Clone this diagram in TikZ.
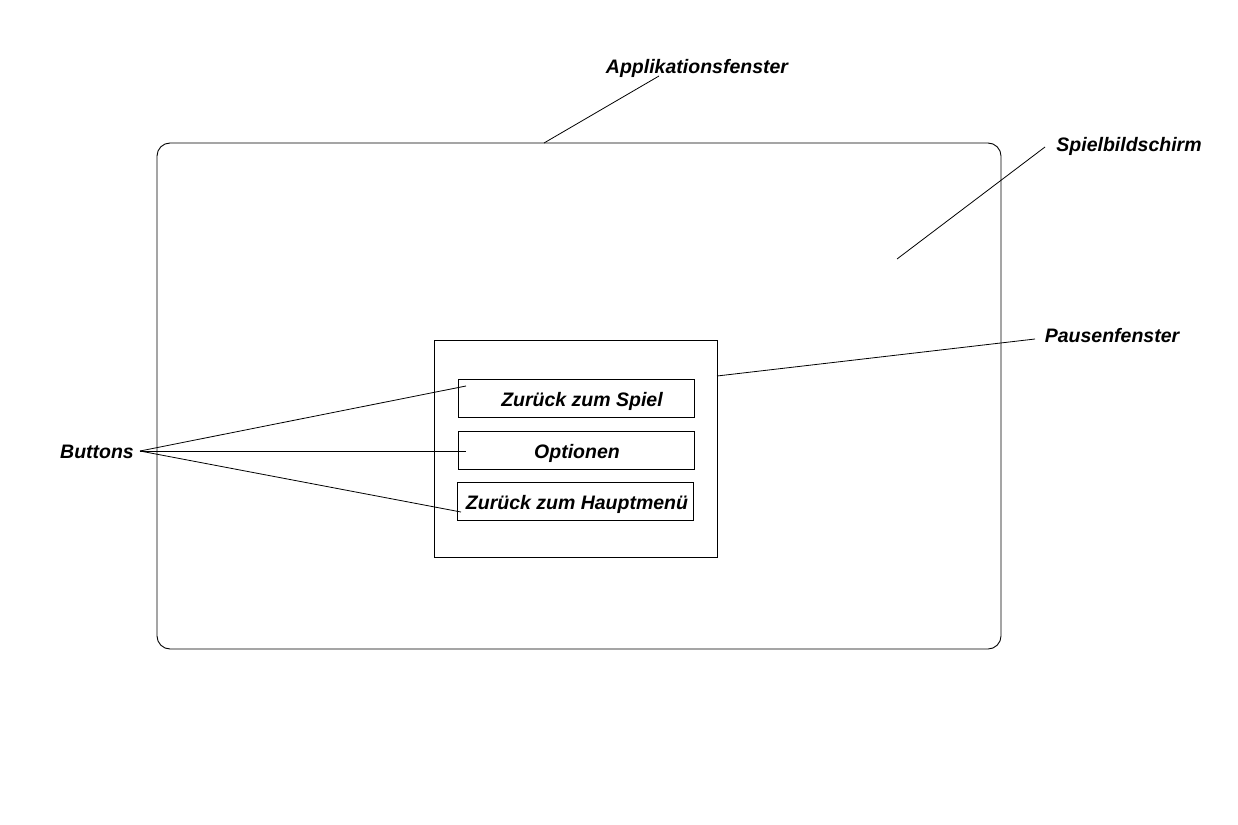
\documentclass[tikz,border=0pt]{standalone}
\usepackage{fontspec}
\setmainfont{Liberation Sans}
\begin{document}
\begin{tikzpicture}[x=1pt,y=-1pt,line width=0.9pt,
  lbl/.style={font=\fontsize{19.5}{22}\selectfont\bfseries\itshape, inner sep=0pt, text height=20pt, text depth=4pt},
  btn/.style={draw, minimum width=236pt, minimum height=38pt, inner sep=0pt, text height=20pt, text depth=4pt, font=\fontsize{19.5}{22}\selectfont\bfseries\itshape},
  leader/.style={line width=0.8pt}]
\useasboundingbox (0,0) rectangle (1238,824);
\fill[white] (0,0) rectangle (1238,824);
% screen
\draw[rounded corners=13pt] (157,143) rectangle (1001,649);
\coordinate (screenTop) at (544,143);
% pause window
\draw (434,340) rectangle (717,557);
\coordinate (pauseEdge) at (717,376);
% buttons
\node[btn] (b1) at (576,398) {\hspace{12pt}Zurück zum Spiel};
\node[btn] (b2) at (576,450) {\hspace{2pt}Optionen};
\node[btn] (b3) at (575,501.5) {\hspace{4pt}Zurück zum Hauptmenü};
\coordinate (b1p) at (466,386);
\coordinate (b2p) at (466,451);
\coordinate (b3p) at (461,512);
% labels
\node[lbl] (app) at (697,66) {Applikationsfenster};
\node[lbl] (spiel) at (1129,143) {Spielbildschirm};
\node[lbl] (pause) at (1112,334) {Pausenfenster};
\node[lbl] (buttons) at (97,450) {Buttons};
\coordinate (appEnd) at (659,76);
\coordinate (spielEnd) at (1045,147);
\coordinate (spielIn) at (897,259);
\coordinate (pauseEnd) at (1035,339);
\coordinate (btnEnd) at (140,451);
% leaders
\draw[leader] (appEnd) -- (screenTop);
\draw[leader] (spielEnd) -- (spielIn);
\draw[leader] (pauseEnd) -- (pauseEdge);
\draw[leader] (btnEnd) -- (b1p);
\draw[leader] (btnEnd) -- (b2p);
\draw[leader] (btnEnd) -- (b3p);
\end{tikzpicture}
\end{document}
